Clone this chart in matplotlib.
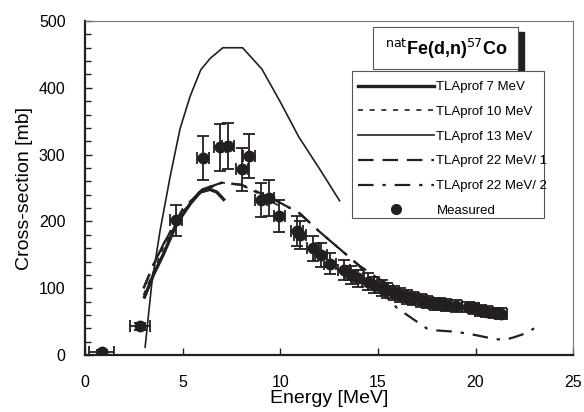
import numpy as np
import matplotlib.pyplot as plt
from matplotlib.patches import Rectangle
from matplotlib.lines import Line2D
from matplotlib.ticker import MultipleLocator

plt.rcParams['font.family'] = ['Liberation Sans', 'DejaVu Sans']

ink = '#231f20'

# measured: energy, cross-section, errors
e_meas = [0.86, 2.82, 4.67, 6.03, 6.92, 7.32, 8.03, 8.41, 9.03, 9.40, 9.96,
          10.85, 11.0, 11.67, 12.1, 12.53, 13.25, 13.6, 14.0, 14.5, 14.8,
          15.2, 15.47, 15.8, 16.15, 16.5, 16.8, 17.2, 17.5, 17.9, 18.2,
          18.5, 19.0, 19.6, 19.9, 20.25, 20.6, 21.0, 21.3]
s_meas = [5, 43, 202, 295, 311, 313, 278, 298, 232, 235, 208,
          186, 180, 160, 150, 137, 128, 120, 115, 110, 105,
          100, 97, 93, 90, 87, 85, 82, 80, 77, 76,
          75, 73, 72, 70, 67, 65, 63, 62]
ds_meas = [3, 5, 23, 33, 35, 35, 32, 33, 26, 27, 24,
           22, 21, 19, 18, 16, 15, 14, 13, 13, 12,
           12, 11, 11, 10, 10, 10, 10, 9, 9, 9,
           9, 9, 8, 8, 8, 8, 8, 8]
de_meas = [0.65, 0.5] + [0.3] * (len(e_meas) - 2)

# TLAprof 7 MeV
e7 = [3.05, 3.5, 4.0, 4.7, 5.4, 5.9, 6.4, 6.75, 7.1]
s7 = [87, 120, 150, 197, 227, 244, 248, 244, 233]

# TLAprof 10 MeV
e10 = [3.0, 4.0, 5.0, 6.0, 7.0, 8.0, 9.0, 10.0]
s10 = [90, 160, 215, 245, 258, 255, 240, 222]

# TLAprof 13 MeV
e13 = [3.08, 3.42, 3.85, 4.36, 4.87, 5.38, 5.93, 6.41, 7.06, 8.07, 9.06,
       10.0, 10.94, 12.05, 13.04]
s13 = [12, 107, 187, 267, 339, 387, 427, 444, 460, 460, 428,
       379, 327, 277, 231]

# TLAprof 22 MeV / 1
e22a = [3.0, 3.5, 4.0, 5.0, 6.0, 7.0, 8.0, 9.0, 10.0, 11.0, 12.0, 13.0,
        14.0, 15.0, 16.0, 17.0, 18.0, 19.0, 20.0, 21.0]
s22a = [100, 135, 165, 218, 248, 258, 255, 242, 228, 212, 185, 160,
        135, 115, 98, 87, 80, 73, 68, 62]

# TLAprof 22 MeV / 2
e22b = [3.0, 3.5, 4.0, 5.0, 6.0, 7.0, 8.0, 9.0, 10.0, 11.0, 12.0, 13.0,
        14.0, 14.5, 15.0, 15.5, 16.0, 16.5, 17.0, 17.5, 18.0, 19.0, 20.0,
        20.5, 21.0, 21.5, 22.0, 22.5, 23.0]
s22b = [100, 135, 165, 218, 248, 258, 255, 242, 228, 212, 185, 160,
        135, 118, 100, 85, 70, 60, 50, 40, 37, 35, 30,
        27, 24, 23, 27, 32, 40]

labels = ['TLAprof 7 MeV', 'TLAprof 10 MeV', 'TLAprof 13 MeV',
          'TLAprof 22 MeV/ 1', 'TLAprof 22 MeV/ 2', 'Measured']

fig = plt.figure(figsize=(5.84, 4.12), dpi=100)
ax = fig.add_axes([0.1455, 0.138, 0.836, 0.811])

h7, = ax.plot(e7, s7, '-', color=ink, lw=2.4)
h10, = ax.plot(e10, s10, color=ink, lw=1.2, dashes=(3, 4))
h13, = ax.plot(e13, s13, '-', color=ink, lw=1.2)
h22a, = ax.plot(e22a, s22a, color=ink, lw=1.6, dashes=(7, 4))
h22b, = ax.plot(e22b, s22b, color=ink, lw=1.6, dashes=(7, 4, 1.5, 4))
ax.errorbar(e_meas, s_meas, yerr=ds_meas, xerr=de_meas, fmt='o', color=ink,
            ms=7.5, elinewidth=1.3, capsize=4, capthick=1.3)
hm = Line2D([], [], ls='none', marker='o', ms=7, color=ink)

ax.set_xlim(0, 25)
ax.set_ylim(0, 500)
ax.xaxis.set_major_locator(MultipleLocator(5))
ax.yaxis.set_major_locator(MultipleLocator(100))
ax.yaxis.set_minor_locator(MultipleLocator(20))
ax.tick_params(axis='both', direction='in', labelsize=11.5, color=ink,
               length=5, width=1)
ax.tick_params(axis='y', which='minor', direction='in', length=4, width=1,
               color=ink)
ax.tick_params(axis='x', pad=14)
ax.tick_params(axis='y', pad=14)

for side in ['left', 'bottom']:
    ax.spines[side].set_linewidth(1.6)
    ax.spines[side].set_color(ink)
for side in ['top', 'right']:
    ax.spines[side].set_linewidth(0.8)
    ax.spines[side].set_color('#777777')

ax.set_xlabel('Energy [MeV]', fontsize=14, labelpad=0)
ax.set_ylabel('Cross-section [mb]', fontsize=14, labelpad=4)

# legend frame drawn by hand so the box is as tight as in the original
ax.add_patch(Rectangle((352 / 584, 1 - 218 / 412), 192 / 584, 147 / 412,
                       transform=fig.transFigure, fc='white', ec='#555555',
                       lw=0.8, zorder=4, clip_on=False))
leg = ax.legend([h7, h10, h13, h22a, h22b, hm], labels,
                loc='upper left', bbox_to_anchor=(352 / 584, 1 - 75 / 412),
                bbox_transform=fig.transFigure,
                fontsize=9.5, handlelength=5.8, handletextpad=0.15,
                labelspacing=0.95, borderpad=0.45, borderaxespad=0,
                frameon=False)
leg.set_zorder(5)

# title box with dark shadow
fig.patches.append(Rectangle((518 / 584, 1 - 70 / 412), 6 / 584, 38 / 412,
                             transform=fig.transFigure, color=ink, zorder=5))
fig.patches.append(Rectangle((373 / 584, 1 - 69 / 412), 145 / 584, 42 / 412,
                             transform=fig.transFigure, fc='white',
                             ec='#555555', lw=0.8, zorder=6))
fig.text(446 / 584, 1 - 49 / 412, r'$^{\rm nat}$Fe(d,n)$^{\rm 57}$Co',
         ha='center', va='center', fontsize=13, fontweight='bold', zorder=7)

fig.savefig('out.png', dpi=100)
